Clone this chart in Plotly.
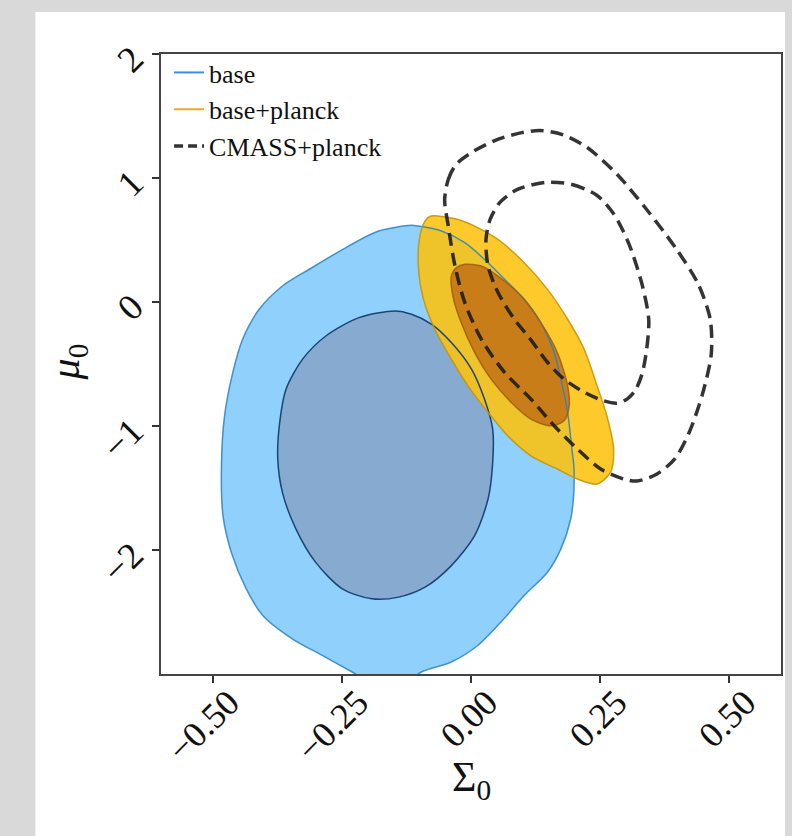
import plotly.graph_objects as go

# ---------------- data ----------------
x_tick_vals = [-0.5, -0.25, 0.0, 0.25, 0.5]
x_tick_text = ["\u22120.50", "\u22120.25", "0.00", "0.25", "0.50"]
y_tick_vals = [2, 1, 0, -1, -2]
y_tick_text = ["2", "1", "0", "\u22121", "\u22122"]

# base: 95% (outer) and 68% (inner) contours
base_outer_x = [-0.115, -0.179, -0.237, -0.313, -0.365, -0.410, -0.442, -0.461, -0.477, -0.483,
                -0.480, -0.464, -0.435, -0.403, -0.346, -0.288, -0.230, -0.19, -0.13, -0.096,
                -0.038, 0.013, 0.058, 0.103, 0.148, 0.174, 0.193, 0.199, 0.199, 0.196,
                0.187, 0.174, 0.161, 0.135, 0.103, 0.065, 0.033, -0.012, -0.057, -0.102]
base_outer_y = [0.618, 0.572, 0.451, 0.264, 0.129, -0.059, -0.300, -0.568, -0.918, -1.320,
                -1.723, -2.018, -2.313, -2.528, -2.716, -2.850, -2.984, -3.08, -3.08, -2.984,
                -2.903, -2.770, -2.581, -2.367, -2.179, -1.991, -1.750, -1.535, -1.320, -1.213,
                -0.890, -0.622, -0.407, -0.166, 0.022, 0.183, 0.317, 0.478, 0.572, 0.612]
base_inner_x = [-0.147, -0.217, -0.281, -0.326, -0.358, -0.371, -0.374, -0.365, -0.339, -0.301,
                -0.249, -0.192, -0.140, -0.089, -0.038, 0.007, 0.033, 0.042, 0.042, 0.026,
                0.001, -0.038, -0.076, -0.115]
base_inner_y = [-0.072, -0.126, -0.274, -0.461, -0.703, -0.998, -1.267, -1.535, -1.830, -2.098,
                -2.313, -2.394, -2.380, -2.300, -2.126, -1.884, -1.589, -1.293, -1.025, -0.783,
                -0.542, -0.327, -0.180, -0.099]

# base+planck
bp_outer_x = [-0.079, -0.025, 0.007, 0.052, 0.103, 0.148, 0.187, 0.219, 0.244, 0.263,
              0.276, 0.270, 0.244, 0.206, 0.167, 0.116, 0.071, 0.033, -0.006, -0.038,
              -0.070, -0.092, -0.102, -0.099, -0.089]
bp_outer_y = [0.692, 0.666, 0.612, 0.505, 0.317, 0.102, -0.139, -0.381, -0.676, -0.918,
              -1.186, -1.374, -1.468, -1.428, -1.347, -1.240, -1.079, -0.890, -0.676, -0.461,
              -0.220, 0.022, 0.290, 0.531, 0.652]
bp_inner_x = [-0.012, 0.020, 0.052, 0.097, 0.135, 0.167, 0.187, 0.190, 0.180, 0.154,
              0.116, 0.078, 0.039, 0.007, -0.019, -0.035, -0.038, -0.028]
bp_inner_y = [0.304, 0.290, 0.209, 0.048, -0.166, -0.407, -0.676, -0.837, -0.958, -0.998,
              -0.944, -0.810, -0.622, -0.407, -0.166, 0.048, 0.209, 0.277]

# CMASS+planck
cp_outer_x = [-0.051, -0.044, -0.029, 0.004, 0.046, 0.090, 0.133, 0.177, 0.225, 0.283,
              0.340, 0.398, 0.440, 0.463, 0.465, 0.448, 0.421, 0.394, 0.360, 0.321,
              0.296, 0.251, 0.206, 0.161, 0.116, 0.065, 0.020, -0.012, -0.031, -0.044]
cp_outer_y = [0.827, 0.988, 1.109, 1.213, 1.302, 1.358, 1.383, 1.350, 1.246, 1.028,
              0.746, 0.424, 0.143, -0.139, -0.421, -0.743, -1.065, -1.267, -1.387, -1.444,
              -1.428, -1.347, -1.186, -0.998, -0.783, -0.568, -0.300, -0.005, 0.290, 0.612]
cp_inner_x = [0.144, 0.196, 0.244, 0.277, 0.306, 0.331, 0.344, 0.340, 0.331, 0.317,
              0.302, 0.283, 0.257, 0.219, 0.180, 0.148, 0.115, 0.084, 0.052, 0.033,
              0.029, 0.037, 0.056, 0.090]
cp_inner_y = [0.964, 0.948, 0.859, 0.706, 0.465, 0.143, -0.139, -0.381, -0.582, -0.719,
              -0.783, -0.816, -0.797, -0.727, -0.622, -0.486, -0.300, -0.139, 0.078, 0.290,
              0.505, 0.666, 0.803, 0.908]

legend_names = ["base", "base+planck", "CMASS+planck"]


def closed(a):
    return list(a) + [a[0]]


FONT = "Liberation Serif"
SPL = dict(shape="spline", smoothing=0.8)
fig = go.Figure()

regions = [
    (base_outer_x, base_outer_y, "rgba(143,208,252,1.0)", "rgba(40,130,195,0.85)"),
    (base_inner_x, base_inner_y, "rgba(134,170,208,1.0)", "rgba(20,62,112,0.95)"),
    (bp_outer_x, bp_outer_y, "rgba(253,193,14,0.88)", "rgba(196,150,5,0.9)"),
    (bp_inner_x, bp_inner_y, "rgba(196,118,22,0.9)", "rgba(160,96,12,0.9)"),
]
# fills first
for xs, ys, fc, lc in regions:
    fig.add_trace(go.Scatter(x=closed(xs), y=closed(ys), mode="lines", fill="toself",
                             fillcolor=fc, line=dict(color=fc, width=0, **SPL),
                             showlegend=False, hoverinfo="skip"))
# then contour edges on top of all fills
for xs, ys, fc, lc in regions:
    fig.add_trace(go.Scatter(x=closed(xs), y=closed(ys), mode="lines",
                             line=dict(color=lc, width=1.5, **SPL),
                             showlegend=False, hoverinfo="skip"))

for xs, ys in [(cp_outer_x, cp_outer_y), (cp_inner_x, cp_inner_y)]:
    fig.add_trace(go.Scatter(x=closed(xs), y=closed(ys), mode="lines",
                             line=dict(color="rgba(30,30,30,0.9)", width=3.5, dash="13px,7px", **SPL),
                             showlegend=False, hoverinfo="skip"))

# legend entries
legend_styles = [dict(color="#3c8fdb", width=2),
                 dict(color="#f5a52a", width=2),
                 dict(color="#333333", width=3.5, dash="9px,5px")]
for name, st in zip(legend_names, legend_styles):
    fig.add_trace(go.Scatter(x=[None], y=[None], mode="lines", name=name, line=st))

fig.update_layout(
    width=792, height=836,
    margin=dict(l=161, r=9, t=54, b=162),
    paper_bgcolor="#d9d9d9",
    plot_bgcolor="white",
    font=dict(family=FONT, color="#111111"),
    showlegend=True,
    legend=dict(x=0.013, y=1.008, xanchor="left", yanchor="top", bgcolor="rgba(0,0,0,0)",
                font=dict(family=FONT, size=26, color="#111111"), itemwidth=30,
                tracegroupgap=0),
    shapes=[dict(type="rect", xref="paper", yref="paper", x0=-0.2026, x1=1.0064,
                 y0=-0.3, y1=1.0677, fillcolor="white", line=dict(width=0), layer="below")],
    annotations=[
        dict(text="\u03a3<sub>0</sub>", xref="paper", yref="paper", x=0.5, y=-0.171,
             xanchor="center", yanchor="middle",
             showarrow=False, font=dict(family=FONT, size=42, color="#111111")),
        dict(text="<i>\u03bc</i><sub>0</sub>", xref="paper", yref="paper", x=-0.1495, y=0.503,
             xanchor="center", yanchor="middle",
             showarrow=False, textangle=-90, font=dict(family=FONT, size=42, color="#111111")),
    ],
)
fig.update_xaxes(range=[-0.6, 0.6], tickvals=x_tick_vals, ticktext=x_tick_text, tickangle=-45,
                 ticks="outside", ticklen=7, tickwidth=1.5, tickcolor="#333333",
                 ticklabelshift=16, ticklabelstandoff=-16,
                 showline=True, linecolor="#444444", linewidth=2, mirror=True,
                 showgrid=False, zeroline=False,
                 tickfont=dict(family=FONT, size=36, color="#111111"))
fig.update_yaxes(range=[-3, 2], tickvals=y_tick_vals, ticktext=y_tick_text, tickangle=-45,
                 ticks="outside", ticklen=7, tickwidth=1.5, tickcolor="#333333",
                 ticklabelstandoff=12,
                 showline=True, linecolor="#444444", linewidth=2, mirror=True,
                 showgrid=False, zeroline=False,
                 tickfont=dict(family=FONT, size=37, color="#111111"))

fig.write_html("out.html", config={"displayModeBar": False},
               post_script="document.body.style.margin='0';")
